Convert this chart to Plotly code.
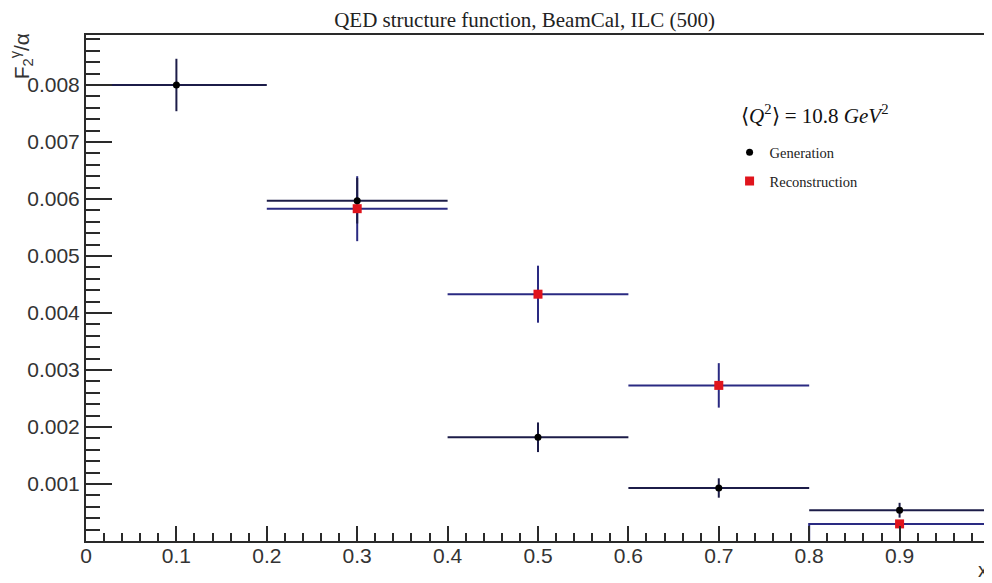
import plotly.graph_objects as go

# ---- data ----
x_centers = [0.1, 0.3, 0.5, 0.7, 0.9]
x_halfwidth = [0.1, 0.1, 0.1, 0.1, 0.1]
gen_x = [0.1, 0.3, 0.5, 0.7, 0.9]
gen_vals = [0.00800, 0.00597, 0.00182, 0.00093, 0.00054]
gen_errs = [0.00046, 0.00040, 0.00026, 0.00017, 0.00013]
rec_x = [0.3, 0.5, 0.7, 0.9]
rec_vals = [0.00583, 0.00433, 0.00273, 0.00030]
rec_errs = [0.00057, 0.00050, 0.00039, 0.00005]
y_tickvals = [0.001, 0.002, 0.003, 0.004, 0.005, 0.006, 0.007, 0.008]
y_ticktext = ["0.001", "0.002", "0.003", "0.004", "0.005", "0.006", "0.007", "0.008"]
x_tickvals = [0, 0.1, 0.2, 0.3, 0.4, 0.5, 0.6, 0.7, 0.8, 0.9, 1.0]
x_ticktext = ["0", "0.1", "0.2", "0.3", "0.4", "0.5", "0.6", "0.7", "0.8", "0.9", "1"]

GEN_LINE = "#1c1c48"
REC_LINE = "#2a2a82"
AXIS = "#2a2a2a"

fig = go.Figure()

# error bars (no legend)
fig.add_trace(go.Scatter(
    x=rec_x, y=rec_vals, mode="markers",
    marker=dict(size=1, color="rgba(0,0,0,0)"),
    error_x=dict(type="data", array=x_halfwidth[1:], color=REC_LINE, thickness=2, width=0),
    error_y=dict(type="data", array=rec_errs, color=REC_LINE, thickness=2, width=0),
    showlegend=False, hoverinfo="skip"))
fig.add_trace(go.Scatter(
    x=gen_x, y=gen_vals, mode="markers",
    marker=dict(size=1, color="rgba(0,0,0,0)"),
    error_x=dict(type="data", array=x_halfwidth, color=GEN_LINE, thickness=2, width=0),
    error_y=dict(type="data", array=gen_errs, color=GEN_LINE, thickness=2, width=0),
    showlegend=False, hoverinfo="skip"))

# step edge of the last reconstruction bin
last_edge = rec_x[-1] - x_halfwidth[-1]
fig.add_trace(go.Scatter(
    x=[last_edge, last_edge, rec_x[-1]], y=[0, rec_vals[-1], rec_vals[-1]],
    mode="lines", line=dict(color=REC_LINE, width=2),
    showlegend=False, hoverinfo="skip"))

# markers
fig.add_trace(go.Scatter(
    x=gen_x, y=gen_vals, mode="markers", name="Generation",
    marker=dict(symbol="circle", size=7, color="black"),
    legendgroup="g"))
fig.add_trace(go.Scatter(
    x=rec_x, y=rec_vals, mode="markers", name="Reconstruction",
    marker=dict(symbol="square", size=9, color="#e0141c"),
    legendgroup="r"))

fig.update_layout(
    width=984, height=575,
    margin=dict(l=78, r=2, t=27, b=42),
    paper_bgcolor="white", plot_bgcolor="white",
    title=dict(text="QED structure function, BeamCal, ILC (500)",
               x=0.525, xanchor="center", y=0.979, yanchor="middle",
               font=dict(family="Liberation Serif", size=21, color="#222")),
    showlegend=True,
    legend=dict(x=0.7135, y=0.80, xanchor="left", yanchor="top",
                bgcolor="rgba(0,0,0,0)", tracegroupgap=7,
                font=dict(family="Liberation Serif", size=14.5, color="#222"),
                itemwidth=30),
    xaxis=dict(range=[0, 0.9978], tickvals=x_tickvals, ticktext=x_ticktext,
               ticks="inside", ticklen=15, tickwidth=2, tickcolor=AXIS,
               minor=dict(dtick=0.02, tick0=0, ticks="inside", ticklen=8,
                          tickwidth=2, tickcolor=AXIS),
               showline=True, linewidth=2, linecolor=AXIS, mirror=True,
               showgrid=False, zeroline=False, ticklabelstandoff=-5,
               tickfont=dict(family="Liberation Sans", size=21, color="#333")),
    yaxis=dict(range=[0, 0.008877], tickvals=y_tickvals, ticktext=y_ticktext,
               ticks="inside", ticklen=26, tickwidth=2, tickcolor=AXIS,
               minor=dict(dtick=0.0002, tick0=0, ticks="inside", ticklen=14,
                          tickwidth=2, tickcolor=AXIS),
               showline=True, linewidth=2, linecolor=AXIS, mirror=True,
               showgrid=False, zeroline=False,
               tickfont=dict(family="Liberation Sans", size=21, color="#333")),
    annotations=[
        dict(text="F<sub>2</sub><sup>γ</sup>/α", xref="paper", yref="paper",
             x=-0.072, y=0.958, xanchor="center", yanchor="middle", textangle=-90,
             showarrow=False,
             font=dict(family="Liberation Sans", size=21, color="#333")),
        dict(text="x", xref="paper", yref="paper", x=0.9945, y=-0.058,
             xanchor="center", yanchor="middle", showarrow=False,
             font=dict(family="Liberation Sans", size=20, color="#333")),
        dict(text="⟨<i>Q</i><sup>2</sup>⟩ = 10.8 <i>GeV</i><sup>2</sup>",
             xref="paper", yref="paper", x=0.7235, y=0.842,
             xanchor="left", yanchor="middle", showarrow=False,
             font=dict(family="Liberation Serif", size=21, color="#111")),
    ],
)

fig.write_html("out.html")
